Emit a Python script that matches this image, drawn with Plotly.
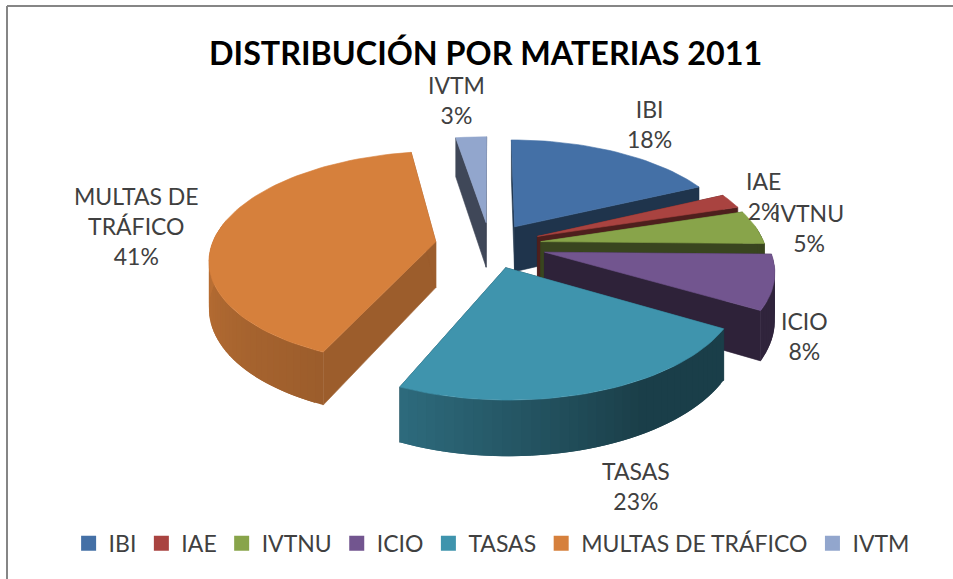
import math
import plotly.graph_objects as go

# ---- data (labels show these rounded) ----
categories = ["IBI", "IAE", "IVTNU", "ICIO", "TASAS", "MULTAS DE TRÁFICO", "IVTM"]
values = [18.0, 2.2, 5.1, 8.1, 23.2, 40.8, 2.6]
chart_title = "DISTRIBUCIÓN POR MATERIAS 2011"

# ---- styles / layout ----
colors = ["#4470a6", "#a94340", "#88a44a", "#72558f", "#3f94ad", "#d6803c", "#92a6cd"]
pulls = [0.21, 0.23, 0.23, 0.25, 0.22, 0.245, 0.22]
radial_mult = [0.46, 0.46, 0.42, 0.40, 0.42, 0.73, 0.43]
draw_order = [6, 0, 1, 2, 5, 3, 4]
label_pos = {"IBI": (649, 124), "IAE": (763, 196), "IVTNU": (809, 228), "ICIO": (804, 336),
             "TASAS": (636, 486), "MULTAS DE TRÁFICO": (136, 226), "IVTM": (456, 100)}
label_text = {"MULTAS DE TRÁFICO": "MULTAS DE<br>TRÁFICO"}
FONT = "Lato"
CX, CY, RX, RY, K, H = 490, 245, 224, 105, 0.15, 46


def project(X, Z, down=0.0):
    s = 1 / (1 + K * Z)
    return CX + RX * X * s, CY - RY * Z * s + H * s * down


def shade(hex_c, m):
    r, g, b = (int(hex_c[i:i + 2], 16) for i in (1, 3, 5))
    return f"rgb({r * m:.0f},{g * m:.0f},{b * m:.0f})"


def wall_mult(t):
    if t <= 150:
        return 0.42
    if t <= 205:
        return 0.42 + (t - 150) / 55 * 0.31
    if t <= 270:
        return 0.73 + (t - 205) / 65 * 0.14
    return 0.87


def poly(xs, ys, color, edge=0.6):
    return go.Scatter(x=xs, y=ys, mode="lines", fill="toself", fillcolor=color,
                      line=dict(color=color, width=edge), hoverinfo="skip", showlegend=False)


total = sum(values)
edges = [0]
for v in values:
    edges.append(edges[-1] + v / total * 360)

fig = go.Figure()
for i in draw_order:
    a0, a1 = edges[i], edges[i + 1]
    mid = math.radians((a0 + a1) / 2)
    ox, oz = pulls[i] * math.sin(mid), pulls[i] * math.cos(mid)
    steps = max(2, int((a1 - a0) / 2))
    angles = [a0 + (a1 - a0) * j / steps for j in range(steps + 1)]
    rim = [(ox + math.sin(math.radians(t)), oz + math.cos(math.radians(t))) for t in angles]
    c = colors[i]
    # radial faces
    for pt in (rim[0], rim[-1]):
        a, b, cc, d = project(ox, oz), project(*pt), project(*pt, 1), project(ox, oz, 1)
        fig.add_trace(poly([a[0], b[0], cc[0], d[0], a[0]], [a[1], b[1], cc[1], d[1], a[1]],
                           shade(c, radial_mult[i])))
    # outer wall: only the part that faces the viewer; each strip overlaps the next
    for j in range(steps):
        if not 80 <= angles[j] <= 280:
            continue
        p, q = rim[j], rim[min(j + 2, steps)]
        a, b, cc, d = project(*p), project(*q), project(*q, 1), project(*p, 1)
        fig.add_trace(poly([a[0], b[0], cc[0], d[0], a[0]], [a[1], b[1], cc[1], d[1], a[1]],
                           shade(c, wall_mult((angles[j] + angles[j + 1]) / 2)), edge=0))
    # top
    top = [project(ox, oz)] + [project(*p) for p in rim] + [project(ox, oz)]
    fig.add_trace(poly([p[0] for p in top], [p[1] for p in top], c))

# legend entries
for name, c in zip(categories, colors):
    fig.add_trace(go.Scatter(x=[None], y=[None], mode="markers", name=name,
                             marker=dict(symbol="square", size=15, color=c), hoverinfo="skip"))

# data labels
for name, v in zip(categories, values):
    x, y = label_pos[name]
    fig.add_annotation(x=x, y=y, text=f"{label_text.get(name, name)}<br>{round(v)}%", showarrow=False,
                       font=dict(family=FONT, size=23, color="#404040"), align="center",
                       xanchor="center", yanchor="middle")

fig.add_annotation(x=485, y=52, text=f"<b>{chart_title}</b>", showarrow=False,
                   font=dict(family=FONT, size=32.3, color="#000000"), xanchor="center", yanchor="middle")

# frame (left and top edges only reach the visible crop)
fig.add_shape(type="line", x0=7, x1=7, y0=6, y1=579, line=dict(color="#868686", width=2))
fig.add_shape(type="line", x0=7, x1=953, y0=6, y1=6, line=dict(color="#868686", width=2))

fig.update_layout(
    width=953, height=579, margin=dict(l=0, r=0, t=0, b=0),
    paper_bgcolor="white", plot_bgcolor="white",
    xaxis=dict(range=[0, 953], visible=False, fixedrange=True),
    yaxis=dict(range=[579, 0], visible=False, fixedrange=True),
    legend=dict(orientation="h", x=0.072, y=0.0615, xanchor="left", yanchor="middle",
                font=dict(family=FONT, size=23, color="#404040"), itemwidth=30,
                itemclick=False, itemdoubleclick=False, bgcolor="rgba(0,0,0,0)"),
)
fig.write_html("out.html", config={"displayModeBar": False},
               post_script="document.body.style.margin='0';document.body.style.overflow='hidden';")
